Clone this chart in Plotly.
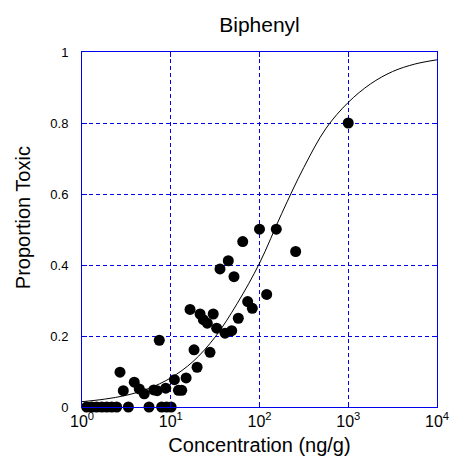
import plotly.graph_objects as go

# Observed data: concentration (ng/g) and proportion toxic
conc = [1.13, 1.29, 1.46, 1.67, 1.90, 2.16, 2.46, 3.33, 5.69, 7.9, 9.0, 10.1,
        2.68, 2.92, 3.88, 4.42, 5.03, 6.44, 7.03, 7.43, 8.79, 11.0, 12.2, 13.3,
        14.9, 16.5, 18.3, 19.8, 21.4, 23.3, 25.8, 27.7, 30.1, 32.9, 35.9, 40.9,
        44.5, 48.6, 51.6, 57.7, 64.7, 73.6, 83.0, 100, 120.5, 154.6, 255.6, 1000]
prop = [0, 0, 0, 0, 0, 0, 0, 0, 0, 0, 0, 0,
        0.098, 0.046, 0.070, 0.051, 0.037, 0.048, 0.046, 0.188, 0.053, 0.077, 0.047, 0.047,
        0.082, 0.275, 0.161, 0.112, 0.262, 0.246, 0.236, 0.154, 0.262, 0.222, 0.389, 0.208,
        0.412, 0.215, 0.367, 0.250, 0.466, 0.297, 0.278, 0.501, 0.317, 0.501, 0.438, 0.800]

# Fitted curve
curve_conc = [1, 1.78, 3.16, 5.62, 10, 17.8, 31.6, 56.2, 100, 178, 316, 562,
              1000, 1780, 3160, 5620, 10000]
curve_prop = [0.015, 0.022, 0.033, 0.052, 0.082, 0.128, 0.197, 0.292, 0.405,
              0.545, 0.675, 0.785, 0.858, 0.910, 0.945, 0.966, 0.978]

x_tickvals = [1, 10, 100, 1000, 10000]
x_ticktext = ["10<sup>0</sup>", "10<sup>1</sup>", "10<sup>2</sup>", "10<sup>3</sup>", "10<sup>4</sup>"]
y_tickvals = [0, 0.2, 0.4, 0.6, 0.8, 1]
y_ticktext = ["0", "0.2", "0.4", "0.6", "0.8", "1"]

FONT = "Liberation Sans, Arial, sans-serif"
BLUE = "#0000EE"

fig = go.Figure()
fig.add_trace(go.Scatter(x=curve_conc, y=curve_prop, mode="lines",
                         line=dict(color="black", width=1, shape="spline"),
                         hoverinfo="skip", showlegend=False))
fig.add_trace(go.Scatter(x=conc, y=prop, mode="markers",
                         marker=dict(color="black", size=11),
                         cliponaxis=False, showlegend=False))

fig.update_layout(
    width=455, height=461,
    margin=dict(l=82, r=18, t=52, b=54, autoexpand=False),
    paper_bgcolor="white", plot_bgcolor="white",
    font=dict(family=FONT, color="black"),
    title=dict(text="Biphenyl", x=0.5, xref="paper", xanchor="center",
               y=0.946, yref="container", yanchor="middle",
               font=dict(size=21, family=FONT, color="black"),
               automargin=False),
    annotations=[dict(text="Proportion Toxic", textangle=-90,
                      xref="paper", x=0, xanchor="center", xshift=-59,
                      yref="paper", y=0.532, yanchor="middle",
                      showarrow=False,
                      font=dict(size=20, family=FONT, color="black"))],
)
fig.update_xaxes(
    type="log", range=[0, 4], automargin=False,
    tickvals=x_tickvals, ticktext=x_ticktext,
    tickfont=dict(size=16, family=FONT, color="black"),
    ticks="inside", ticklen=5, tickcolor=BLUE, tickwidth=1,
    showline=True, linecolor=BLUE, linewidth=1, mirror="ticks",
    showgrid=True, gridcolor=BLUE, gridwidth=1, griddash="4px,3px",
    zeroline=False,
    title=dict(text="Concentration (ng/g)", font=dict(size=20, family=FONT, color="black"),
               standoff=8),
)
fig.update_yaxes(
    range=[0, 1], automargin=False,
    tickvals=y_tickvals, ticktext=y_ticktext,
    tickfont=dict(size=13, family=FONT, color="black"),
    ticks="inside", ticklen=5, tickcolor=BLUE, tickwidth=1,
    ticklabelstandoff=10,
    showline=True, linecolor=BLUE, linewidth=1, mirror="ticks",
    showgrid=True, gridcolor=BLUE, gridwidth=1, griddash="4px,3px",
    zeroline=False,
)

fig.write_html("out.html", config={"displayModeBar": False},
               post_script="document.body.style.margin='0';")
